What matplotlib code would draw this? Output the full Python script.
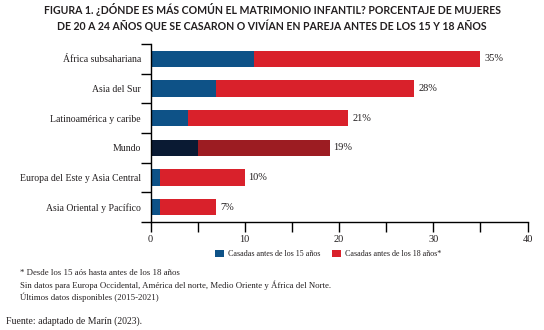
import matplotlib
matplotlib.use("Agg")
import matplotlib.pyplot as plt
import numpy as np

categories = ["África subsahariana", "Asia del Sur", "Latinoamérica y caribe", "Mundo",
              "Europa del Este y Asia Central", "Asia Oriental y Pacífico"]
before15 = [11, 7, 4, 5, 1, 1]
before18 = [35, 28, 21, 19, 10, 7]
value_labels = ["35%", "28%", "21%", "19%", "10%", "7%"]
x_ticks = [0, 10, 20, 30, 40]
legend_labels = ["Casadas antes de los 15 años", "Casadas antes de los 18 años*"]

title = ("FIGURA 1. ¿DÓNDE ES MÁS COMÚN EL MATRIMONIO INFANTIL? PORCENTAJE DE MUJERES\n"
         "DE 20 A 24 AÑOS QUE SE CASARON O VIVÍAN EN PAREJA ANTES DE LOS 15 Y 18 AÑOS")
notes = ["* Desde los 15 aós hasta antes de los 18 años",
         "Sin datos para Europa Occidental, América del norte, Medio Oriente y África del Norte.",
         "Últimos datos disponibles (2015-2021)"]
source = "Fuente: adaptado de Marín (2023)."

BLUE = "#0e5287"
RED = "#d9212b"
NAVY = "#0a1a33"
DARKRED = "#9c1c22"
TXT = "#231f20"
SERIF = ["Liberation Serif", "DejaVu Serif"]

fig = plt.figure(figsize=(5.44, 3.30), dpi=100)
ax = fig.add_axes([150.5 / 544, 108 / 330, 377 / 544, 178 / 330])

n = len(categories)
ypos = np.arange(n)[::-1]
b15 = np.array(before15)
b18 = np.array(before18)
c1 = [NAVY if c == "Mundo" else BLUE for c in categories]
c2 = [DARKRED if c == "Mundo" else RED for c in categories]
h = 0.54
bars1 = ax.barh(ypos, b15, height=h, color=c1, label=legend_labels[0], zorder=2)
bars2 = ax.barh(ypos, b18 - b15, left=b15, height=h, color=c2, label=legend_labels[1], zorder=2)
for y, v, lab in zip(ypos, b18, value_labels):
    ax.text(v + 0.4, y, lab, va="center", ha="left", fontsize=7.5, family=SERIF, color=TXT)

ax.set_xlim(0, 40)
ax.set_ylim(-0.5, n - 0.5)
ax.set_xticks(x_ticks)
ax.set_xticks([5, 15, 25, 35], minor=True)
ax.set_xticklabels([str(t) for t in x_ticks], fontsize=7.5, family=SERIF, color=TXT)
ax.tick_params(axis="x", which="both", direction="out", length=7, width=1, color="black", pad=2)

# y ticks at category boundaries, labels at centres
ax.set_yticks(np.arange(-0.5, n, 1.0))
ax.set_yticklabels([])
ax.set_yticks(ypos, minor=True)
ax.set_yticklabels(categories, minor=True, fontsize=7, family=SERIF, color=TXT)
ax.tick_params(axis="y", which="major", direction="out", length=7, width=1, color="black")
ax.tick_params(axis="y", which="minor", length=0, pad=7)

for s in ["top", "right"]:
    ax.spines[s].set_visible(False)
for s in ["left", "bottom"]:
    ax.spines[s].set_linewidth(1)
    ax.spines[s].set_color("black")

fig.text(0.5, 0.99, title, ha="center", va="top", fontsize=7.6, fontweight="bold",
         family=["Lato", "DejaVu Sans"], color=TXT, linespacing=1.4)

leg = fig.legend(handles=[bars1, bars2], labels=legend_labels, loc="center",
                 bbox_to_anchor=(328 / 544, 1 - 254 / 330), ncol=2, frameon=False,
                 prop={"family": SERIF, "size": 5.8}, handlelength=1.1, handleheight=1.1,
                 handletextpad=0.5, columnspacing=1.5, borderaxespad=0)
for t in leg.get_texts():
    t.set_color(TXT)

for i, line in enumerate(notes):
    fig.text(20 / 544, 1 - (273 + 12.3 * i) / 330, line, ha="left", va="center",
             fontsize=6.35, family=SERIF, color=TXT)
fig.text(6 / 544, 1 - 321 / 330, source, ha="left", va="center", fontsize=7,
         family=SERIF, color=TXT)

fig.savefig("out.png", dpi=100, facecolor="white")
